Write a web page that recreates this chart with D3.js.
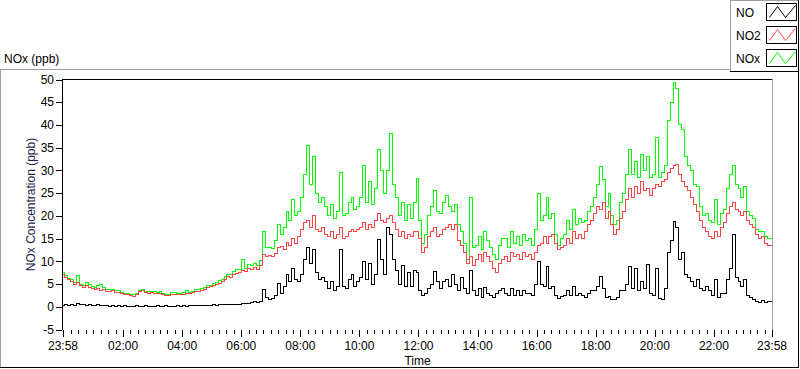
<!DOCTYPE html>
<html><head><meta charset="utf-8">
<script src="https://cdn.jsdelivr.net/npm/d3@7"></script>
<style>
body{margin:0;background:#fff;}
svg{display:block;font-family:"Liberation Sans",Arial,sans-serif;font-size:12px;}
</style></head><body>
<svg id="chart" width="800" height="369"></svg>
<script>
// ---------------- DATA ----------------
const seriesNames = ["NO", "NO2", "NOx"];
const stepMinutes = 6;           // sample spacing, minutes from 23:58
const no = [
0.3,0.5,0.2,0.6,0.3,0.8,0.5,0.4,0.3,0.5,
0.3,0.2,0.4,0.2,0.3,0.2,0.1,0.3,0.1,0.2,
0.1,0.2,0.1,0.1,0.1,0.2,0.1,0.1,0.2,0.1,
0.1,0.1,0.2,0.1,0.1,0.2,0.1,0.1,0.1,0.2,
0.1,0.2,0.1,0.2,0.2,0.3,0.2,0.3,0.2,0.3,
0.3,0.4,0.3,0.4,0.4,0.5,0.4,0.5,0.4,0.6,
0.6,0.7,0.8,0.8,1.0,1.1,1.0,1.2,3.9,2.0,
1.5,1.8,2.5,5.2,3.0,4.5,7.0,5.5,8.5,6.0,
5.5,7.0,10.5,13.0,9.5,12.5,7.5,6.0,6.5,5.5,
4.0,5.5,3.5,4.5,12.5,4.5,4.0,6.0,7.0,4.5,
5.5,6.5,10.0,6.0,9.5,5.0,7.0,14.7,10.5,7.0,
17.5,16.0,10.5,8.0,5.0,9.0,4.5,7.5,4.5,8.0,
7.5,3.5,2.5,3.0,4.0,5.0,7.7,5.5,4.0,5.5,
6.0,4.5,7.0,5.0,3.5,6.5,4.0,3.0,8.0,3.5,
2.5,4.0,2.0,4.3,3.0,2.5,2.0,3.0,3.5,4.0,
3.0,2.5,4.0,2.5,3.5,2.5,3.5,3.0,3.0,2.5,
5.0,10.0,5.0,4.5,8.8,4.0,4.5,2.5,1.8,2.2,
2.5,3.5,2.5,4.5,2.5,3.0,2.5,2.0,3.0,3.5,
3.5,4.5,6.6,4.0,2.0,2.2,1.5,1.5,2.0,3.5,
3.5,5.0,8.8,4.0,8.5,3.5,5.5,4.0,9.2,3.0,
2.5,8.5,1.8,1.5,4.0,12.0,14.5,18.8,17.5,10.5,
12.0,7.0,6.5,5.5,4.5,6.0,4.0,3.5,4.5,3.5,
2.5,5.9,2.0,3.0,3.0,6.0,8.5,15.8,6.5,5.5,
4.5,5.9,2.5,2.0,1.5,1.2,1.0,1.3,1.0,1.2,
1.2];
const no2 = [
7.2,6.5,5.9,5.5,5.0,5.4,4.6,4.3,4.6,4.3,
4.0,3.8,4.1,3.6,3.9,3.4,3.3,3.5,3.1,3.2,
2.9,2.7,2.8,2.5,2.3,2.6,3.4,3.5,3.1,3.0,
3.1,3.0,2.9,3.0,2.6,2.4,2.5,2.6,2.7,2.6,
2.7,2.8,3.0,2.9,3.1,3.3,3.4,3.6,3.8,4.2,
4.4,4.7,4.9,5.1,5.6,6.0,6.6,6.4,7.0,7.4,
7.6,8.0,7.7,8.5,8.2,8.6,8.2,9.0,11.4,11.0,
11.2,11.0,11.8,13.0,13.2,12.5,14.2,13.5,15.0,14.0,
15.5,17.0,18.5,19.0,17.5,20.0,17.0,16.5,17.5,16.0,
15.5,16.5,15.0,16.0,17.5,15.0,15.5,16.5,17.0,16.5,
17.0,17.5,18.5,17.0,18.0,17.5,19.0,20.5,19.0,18.5,
19.5,20.0,18.5,17.0,15.5,16.5,15.0,16.0,15.5,16.5,
16.5,15.0,12.0,13.0,15.5,16.5,17.5,15.5,16.0,17.0,
17.5,18.0,17.0,18.0,14.5,13.5,12.0,9.5,11.0,9.0,
10.5,11.5,10.0,12.0,11.0,10.0,8.5,7.5,9.5,10.5,
11.0,10.0,12.0,11.0,11.5,10.5,12.0,11.0,11.5,10.5,
12.0,13.5,14.0,15.5,14.0,15.5,16.0,14.0,12.5,13.0,
13.5,15.0,14.0,16.5,15.0,16.0,15.0,16.5,18.0,19.0,
20.5,22.0,21.5,23.0,19.5,21.0,18.0,16.0,17.0,19.5,
21.0,23.5,26.0,24.0,26.5,25.0,27.5,25.5,26.0,24.5,
26.0,27.0,26.5,27.5,28.0,29.5,30.5,31.0,31.2,29.0,
27.5,26.5,25.5,24.0,22.5,21.0,19.0,17.5,16.5,15.5,
15.0,16.5,15.5,17.5,18.5,20.5,22.0,23.0,21.5,21.0,
20.0,21.0,19.0,18.0,17.5,16.0,15.0,15.5,14.0,13.5,
13.5];
const nox = [
7.6,6.9,6.3,5.9,5.4,6.8,5.0,4.6,5.3,4.8,
4.4,4.3,4.6,4.8,4.3,3.9,3.8,3.9,3.5,3.6,
3.1,3.0,3.0,2.8,2.6,2.9,3.6,3.8,3.4,3.3,
3.3,3.3,3.1,3.4,2.9,2.6,2.8,3.2,3.1,2.9,
3.0,3.2,3.5,3.2,3.4,3.7,3.7,4.0,4.3,4.6,
4.7,5.2,5.3,5.7,6.1,6.6,7.2,7.1,7.7,8.1,
8.3,10.3,8.5,9.3,9.0,9.5,9.0,10.2,16.5,13.0,
13.0,12.8,14.5,18.0,16.0,17.5,21.0,19.0,23.5,20.0,
21.0,24.0,29.0,35.4,27.0,33.0,25.0,23.0,24.0,22.0,
20.0,22.5,19.5,21.0,29.6,20.0,20.5,23.0,24.0,21.5,
22.0,24.0,31.0,23.0,27.6,22.5,26.0,34.6,30.0,25.0,
30.0,38.2,26.8,24.0,20.0,23.0,19.0,22.5,19.5,23.0,
28.2,19.0,14.0,16.0,20.0,22.0,25.6,21.0,20.5,23.0,
24.4,22.0,21.0,22.5,18.0,16.5,14.0,10.5,24.0,13.0,
13.5,15.5,12.5,16.5,14.5,13.0,11.5,10.5,13.5,15.0,
15.0,13.0,16.5,14.0,15.5,13.5,16.0,14.5,15.0,13.5,
17.0,25.0,19.0,20.0,24.0,19.5,20.5,16.0,13.5,15.0,
16.0,19.0,17.0,21.5,18.0,19.5,18.5,19.0,21.0,22.0,
24.0,27.0,30.8,27.9,22.0,25.0,20.0,18.0,19.0,23.0,
25.0,29.0,34.6,29.0,32.0,28.5,33.5,30.0,33.0,28.5,
29.0,37.2,28.5,29.5,31.0,41.0,45.0,49.3,48.0,40.0,
39.0,33.0,31.0,30.0,27.0,26.5,22.0,20.0,20.5,19.0,
18.5,23.5,18.0,20.5,21.5,26.0,29.0,31.0,27.0,26.0,
24.0,26.5,21.0,20.0,19.5,17.0,16.5,16.5,15.5,15.0,
15.0];
const yTicks = [-5,0,5,10,15,20,25,30,35,40,45,50];
const xTickLabels = ["23:58","02:00","04:00","06:00","08:00","10:00","12:00","14:00","16:00","18:00","20:00","22:00","23:58"];
const xTickMinutes = [0,122,242,362,482,602,722,842,962,1082,1202,1322,1440];

// ---------------- DRAW ----------------
const svg = d3.select("#chart");
const L = 63, R = 772, T = 79.5, B = 329.5;
const x = d3.scaleLinear().domain([0, 1440]).range([L, R]);
const y = d3.scaleLinear().domain([-5, 50]).range([B, T]);

const g = svg.append("g").attr("shape-rendering", "crispEdges");
function hline(x1, x2, yy, c){ g.append("line").attr("x1",x1).attr("x2",x2).attr("y1",yy).attr("y2",yy).attr("stroke",c); }
function vline(xx, y1, y2, c){ g.append("line").attr("x1",xx).attr("x2",xx).attr("y1",y1).attr("y2",y2).attr("stroke",c); }

// outer panel
hline(0, 730, 69.5, "#a0a0a0");
vline(0.5, 69, 368, "#a0a0a0");
hline(0, 799, 367.5, "#000");
vline(798.5, 72, 368, "#000");

// legend box
vline(730.5, 0, 72, "#a0a0a0");
hline(730, 799, 0.5, "#a0a0a0");
hline(730, 799, 71.5, "#000");
vline(798.5, 0, 72, "#000");

svg.append("text").attr("x", 4).attr("y", 63).attr("fill", "#000").text("NOx (ppb)");

// series lines
const seriesData = [nox, no2, no];
const seriesColor = ["#00ff00", "#ff4444", "#000000"];
const line = d3.line()
  .x((d, i) => x(i * stepMinutes))
  .y(d => y(d))
  .curve(d3.curveStep);
seriesData.forEach((arr, k) => {
  svg.append("path").datum(arr)
    .attr("d", line)
    .attr("fill", "none")
    .attr("stroke", seriesColor[k])
    .attr("stroke-width", 1)
    .attr("shape-rendering", "crispEdges");
});

// plot frame
hline(62, 773, 79.5, "#000");
vline(62.5, 79, 330, "#000");
vline(772.5, 79, 330, "#a0a0a0");

// y axis ticks + labels
yTicks.forEach(v => {
  const yy = Math.round(y(v)) + 0.5;
  hline(56, 62, yy, "#000");
  svg.append("text").attr("x", 54).attr("y", y(v)).attr("dy", "0.35em")
    .attr("text-anchor", "end").attr("fill", "#000").text(v);
});
svg.append("text")
  .attr("transform", `translate(35,${(T + B) / 2}) rotate(-90)`)
  .attr("text-anchor", "middle").attr("fill", "#18214a")
  .text("NOx Concentration (ppb)");

// x axis ticks
for (let k = 0; k < xTickMinutes.length; k++) {
  const xx = Math.round(x(xTickMinutes[k])) + 0.5;
  vline(xx, 330, 337, "#000");
  svg.append("text").attr("x", x(xTickMinutes[k])).attr("y", 350)
    .attr("text-anchor", "middle").attr("fill", "#000").text(xTickLabels[k]);
  if (k < xTickMinutes.length - 1) {
    const a = xTickMinutes[k], b = xTickMinutes[k + 1];
    for (let j = 1; j < 8; j++) {
      const xm = Math.round(x(a + (b - a) * j / 8)) + 0.5;
      vline(xm, 330, 334, "#000");
    }
  }
}
svg.append("text").attr("x", (L + R) / 2).attr("y", 365)
  .attr("text-anchor", "middle").attr("fill", "#000").text("Time");

// legend entries
const legColors = ["#000000", "#ff4444", "#00ff00"];
seriesNames.forEach((name, k) => {
  const top = 3.5 + k * 23;
  svg.append("text").attr("x", 736).attr("y", top + 13.5).attr("fill", "#000").text(name);
  g.append("rect").attr("x", 766.5).attr("y", top).attr("width", 30).attr("height", 17)
    .attr("fill", "#fff").attr("stroke", "#000");
  const x0 = 766.5;
  svg.append("path")
    .attr("d", `M${x0+3},${top+14} L${x0+11},${top+3} L${x0+19},${top+14} L${x0+29},${top+2}`)
    .attr("fill", "none").attr("stroke", legColors[k]);
});
</script>
</body></html>
